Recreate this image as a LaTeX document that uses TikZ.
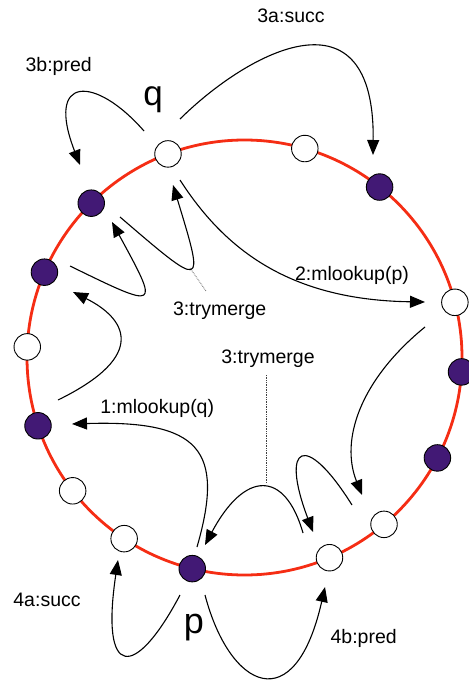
\documentclass[tikz,border=0pt]{standalone}
\usepackage{fontspec}
\setmainfont{Liberation Sans}
\usetikzlibrary{arrows.meta,calc}
\definecolor{ringred}{RGB}{245,45,20}
\definecolor{peerpurple}{RGB}{66,25,117}
\begin{document}
\begin{tikzpicture}[x=1pt,y=-1pt,
  peer/.style={circle,draw=black,line width=0.9pt,minimum size=26.5pt,inner sep=0pt},
  freepeer/.style={peer,fill=white},
  mergedpeer/.style={peer,fill=peerpurple},
  msg/.style={line width=1.1pt,-{Triangle[length=15pt,width=12pt]}},
  guide/.style={densely dotted,line width=0.7pt,draw=black!75},
  lbl/.style={font=\fontsize{19.5}{22}\selectfont,anchor=base,inner sep=0pt},
  peername/.style={anchor=base,inner sep=0pt}]
\useasboundingbox (0,0) rectangle (468,684);

% the ring
\coordinate (C) at (244.5,357.5);
\draw[ringred,line width=2.8pt] (C) circle[radius=217.5];

% end points of the messages
\coordinate (pb-s) at (144,131);  \coordinate (pb-e) at (80,165);
\coordinate (sa-s) at (180,119);  \coordinate (sa-e) at (373,155);
\coordinate (mlp-s) at (180,180); \coordinate (mlp-e) at (425,302);
\coordinate (tma-s) at (120,217); \coordinate (tma-e) at (173,185);
\coordinate (tmb-s) at (70,266);  \coordinate (tmb-e) at (112,222);
\coordinate (lf-s) at (58,400);   \coordinate (lf-e) at (73,292);
\coordinate (mlq-s) at (197,547); \coordinate (mlq-e) at (72,424);
\coordinate (rt-s) at (425,327);  \coordinate (rt-e) at (362,495);
\coordinate (tmc-s) at (303,533); \coordinate (tmc-e) at (205,545);
\coordinate (tmd-s) at (352,505); \coordinate (tmd-e) at (313,532);
\coordinate (sc-s) at (180,595);  \coordinate (sc-e) at (118,560);
\coordinate (pd-s) at (205,595);  \coordinate (pd-e) at (325,587);

% messages
\draw[msg] (pb-s) .. controls (95,75) and (45,75) .. (pb-e);
\draw[msg] (sa-s) .. controls (250,50) and (375,-15) .. (sa-e);
\draw[msg] (mlp-s) .. controls (225,250) and (290,300) .. (mlp-e);
\draw[msg] (tma-s) .. controls (205,290) and (205,290) .. (tma-e);
\draw[msg] (tmb-s) .. controls (160,310) and (160,310) .. (tmb-e);
\draw[msg] (lf-s) .. controls (150,355) and (125,318) .. (lf-e);
\draw[msg] (mlq-s) .. controls (225,450) and (200,420) .. (mlq-e);
\draw[msg] (rt-s) .. controls (360,380) and (340,440) .. (rt-e);
\draw[msg] (tmc-s) .. controls (285,470) and (245,470) .. (tmc-e);
\draw[msg] (tmd-s) .. controls (305,430) and (280,445) .. (tmd-e);
\draw[msg] (sc-s) .. controls (135,680) and (100,680) .. (sc-e);
\draw[msg] (pd-s) .. controls (230,690) and (295,720) .. (pd-e);

% dotted guides from the trymerge labels
\coordinate (gu-a) at (190,268); \coordinate (gu-b) at (206,291);
\coordinate (gl-a) at (266,375); \coordinate (gl-b) at (266,483);
\draw[guide] (gu-a) -- (gu-b);
\draw[guide] (gl-a) -- (gl-b);

% peers on the ring
\node[freepeer]   (q)   at ($(C)+(-110.6:217.5)$) {};
\node[freepeer]   (n1)  at ($(C)+(-73.9:217.5)$) {};
\node[mergedpeer] (n2)  at ($(C)+(-51.6:217.5)$) {};
\node[freepeer]   (n13) at ($(C)+(-14.7:217.5)$) {};
\node[mergedpeer] (n12) at ($(C)+(3.8:217.5)$) {};
\node[mergedpeer] (n11) at ($(C)+(27.5:217.5)$) {};
\node[freepeer]   (n10) at ($(C)+(50.1:217.5)$) {};
\node[freepeer]   (n9)  at ($(C)+(67.0:217.5)$) {};
\node[mergedpeer] (p)   at ($(C)+(103.9:217.5)$) {};
\node[freepeer]   (n8)  at ($(C)+(123.6:217.5)$) {};
\node[freepeer]   (n7)  at ($(C)+(142.2:217.5)$) {};
\node[mergedpeer] (n6)  at ($(C)+(161.7:217.5)$) {};
\node[freepeer]   (n5)  at ($(C)+(182.8:217.5)$) {};
\node[mergedpeer] (n4)  at ($(C)+(203.1:217.5)$) {};
\node[mergedpeer] (n3)  at ($(C)+(225.2:217.5)$) {};

% labels
\node[lbl] (l3a) at (291,22.7) {3a:succ};
\node[lbl] (l3b) at (58.7,71.7) {3b:pred};
\node[lbl] (l2)  at (352,280) {2:mlookup(p)};
\node[lbl] (l3u) at (219.7,315) {3:trymerge};
\node[lbl] (l3l) at (268,363.3) {3:trymerge};
\node[lbl] (l1)  at (157.2,413.3) {1:mlookup(q)};
\node[lbl] (l4a) at (47,606.7) {4a:succ};
\node[lbl] (l4b) at (363.7,643.3) {4b:pred};
\node[peername,font=\fontsize{35}{40}\selectfont] (ql) at (153,105.5) {q};
\node[peername,font=\fontsize{36}{40}\selectfont] (pl) at (194,633) {p};
\end{tikzpicture}
\end{document}
